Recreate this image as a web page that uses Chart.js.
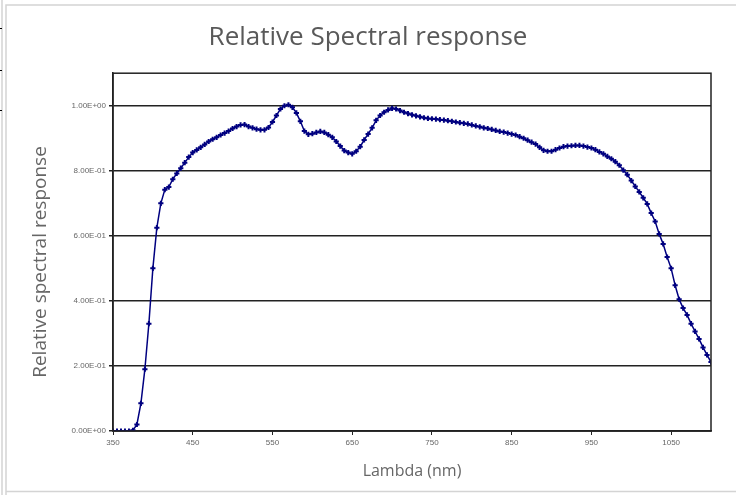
<!DOCTYPE html>
<html>
<head>
<meta charset="utf-8">
<script src="https://cdn.jsdelivr.net/npm/chart.js@4/dist/chart.umd.min.js"></script>
<style>
  html, body { margin: 0; padding: 0; background: #fff; }
  #wrap { position: relative; width: 736px; height: 495px; }
</style>
</head>
<body>
<div id="wrap"><canvas id="myChart" width="736" height="495"></canvas></div>
<script>
(function () {
    'use strict';

    // wavelength (nm) and relative response
    var lambda = [
        350, 355, 360, 365, 370, 375, 380, 385, 390, 395,
        400, 405, 410, 415, 420, 425, 430, 435, 440, 445,
        450, 455, 460, 465, 470, 475, 480, 485, 490, 495,
        500, 505, 510, 515, 520, 525, 530, 535, 540, 545,
        550, 555, 560, 565, 570, 575, 580, 585, 590, 595,
        600, 605, 610, 615, 620, 625, 630, 635, 640, 645,
        650, 655, 660, 665, 670, 675, 680, 685, 690, 695,
        700, 705, 710, 715, 720, 725, 730, 735, 740, 745,
        750, 755, 760, 765, 770, 775, 780, 785, 790, 795,
        800, 805, 810, 815, 820, 825, 830, 835, 840, 845,
        850, 855, 860, 865, 870, 875, 880, 885, 890, 895,
        900, 905, 910, 915, 920, 925, 930, 935, 940, 945,
        950, 955, 960, 965, 970, 975, 980, 985, 990, 995,
        1000, 1005, 1010, 1015, 1020, 1025, 1030, 1035, 1040, 1045,
        1050, 1055, 1060, 1065, 1070, 1075, 1080, 1085, 1090, 1095,
        1100
    ];
    var response = [
        0, 0, 0, 0, 0, 0.002, 0.02, 0.085, 0.19, 0.33,
        0.50, 0.625, 0.70, 0.742, 0.750, 0.774, 0.792, 0.808, 0.825, 0.842,
        0.856, 0.864, 0.872, 0.881, 0.890, 0.897, 0.903, 0.910, 0.916, 0.922,
        0.930, 0.936, 0.941, 0.942, 0.936, 0.932, 0.928, 0.926, 0.926, 0.933,
        0.950, 0.970, 0.990, 1.000, 1.003, 0.995, 0.978, 0.952, 0.922, 0.912,
        0.914, 0.918, 0.921, 0.918, 0.911, 0.903, 0.890, 0.876, 0.862, 0.856,
        0.852, 0.860, 0.874, 0.895, 0.913, 0.932, 0.955, 0.970, 0.980, 0.987,
        0.992, 0.990, 0.985, 0.980, 0.976, 0.972, 0.969, 0.966, 0.963, 0.961,
        0.960, 0.959, 0.957, 0.956, 0.954, 0.952, 0.950, 0.948, 0.946, 0.944,
        0.941, 0.938, 0.935, 0.932, 0.930, 0.927, 0.924, 0.921, 0.919, 0.916,
        0.913, 0.910, 0.905, 0.900, 0.894, 0.888, 0.882, 0.872, 0.863, 0.860,
        0.860, 0.865, 0.870, 0.874, 0.876, 0.877, 0.878, 0.878, 0.876, 0.873,
        0.870, 0.865, 0.858, 0.852, 0.844, 0.837, 0.828, 0.817, 0.802, 0.788,
        0.770, 0.752, 0.735, 0.717, 0.698, 0.670, 0.644, 0.606, 0.575, 0.535,
        0.500, 0.448, 0.405, 0.378, 0.357, 0.330, 0.306, 0.283, 0.257, 0.234,
        0.212
    ];
    var xTicks = [350, 450, 550, 650, 750, 850, 950, 1050];
    var yTicks = [0, 0.2, 0.4, 0.6, 0.8, 1.0];

    var points = lambda.map(function (x, i) { return { x: x, y: response[i] }; });

    function sci(v) {
        if (v === 0) return '0.00E+00';
        var e = Math.floor(Math.log10(Math.abs(v)) + 1e-9);
        var m = v / Math.pow(10, e);
        var s = e < 0 ? '-' : '+';
        var ea = Math.abs(e);
        return m.toFixed(2) + 'E' + s + (ea < 10 ? '0' + ea : ea);
    }

    // light page frame and the box round the plot area
    var framePlugin = {
        id: 'frame',
        beforeDraw: function (chart) {
            var c = chart.ctx;
            c.save();
            c.strokeStyle = '#d4d4d4';
            c.lineWidth = 1.5;
            c.beginPath();
            c.moveTo(2, 0); c.lineTo(2, 495);
            c.moveTo(6, 495); c.lineTo(6, 5); c.lineTo(736, 5);
            c.moveTo(6, 491.5); c.lineTo(736, 491.5);
            c.stroke();
            c.fillStyle = '#000';
            [28, 70, 110].forEach(function (y) { c.fillRect(0, y, 2, 1); });
            c.restore();
        },
        afterDraw: function (chart) {
            var a = chart.chartArea, c = chart.ctx;
            c.save();
            c.strokeStyle = '#222';
            c.lineWidth = 1.5;
            c.strokeRect(a.left, a.top, a.right - a.left, a.bottom - a.top);
            c.restore();
        }
    };

    var ctx = document.getElementById('myChart');
    new Chart(ctx, {
        type: 'line',
        data: {
            datasets: [{
                label: 'Relative spectral response',
                data: points,
                borderColor: '#000080',
                backgroundColor: '#000080',
                borderWidth: 1.5,
                pointStyle: 'cross',
                pointRadius: 2.6,
                pointBorderWidth: 2,
                pointHoverRadius: 2.6,
                tension: 0
            }]
        },
        options: {
            responsive: false,
            animation: false,
            events: [],
            layout: { padding: 0 },
            plugins: {
                legend: { display: false },
                tooltip: { enabled: false },
                title: {
                    display: true,
                    text: 'Relative Spectral response',
                    color: '#595959',
                    font: { family: 'Open Sans', size: 26, weight: 'normal' },
                    padding: { top: 22, bottom: 20 }
                }
            },
            scales: {
                x: {
                    type: 'linear',
                    min: 350,
                    max: 1100,
                    afterBuildTicks: function (scale) {
                        scale.ticks = xTicks.map(function (v) { return { value: v }; });
                    },
                    afterFit: function (scale) { scale.height = 64; },
                    grid: { display: true, drawOnChartArea: false, drawTicks: true, tickLength: 4, color: '#222', lineWidth: 1 },
                    border: { display: true, color: '#222', width: 1.5 },
                    ticks: {
                        color: '#666',
                        font: { family: 'Liberation Sans', size: 8 },
                        padding: 3,
                        maxRotation: 0,
                        autoSkip: false,
                        callback: function (v) { return String(v); }
                    },
                    title: {
                        display: true,
                        text: 'Lambda (nm)',
                        color: '#666',
                        font: { family: 'Open Sans', size: 16 },
                        padding: { top: 0, bottom: 14 }
                    }
                },
                y: {
                    type: 'linear',
                    min: 0,
                    max: 1.1,
                    afterBuildTicks: function (scale) {
                        scale.ticks = yTicks.map(function (v) { return { value: v }; });
                    },
                    afterFit: function (scale) { scale.width = 113; },
                    grid: { color: '#222', lineWidth: 1.5, drawTicks: true, tickLength: 4 },
                    border: { display: true, color: '#222', width: 1.5 },
                    ticks: {
                        color: '#666',
                        font: { family: 'Liberation Sans', size: 8 },
                        padding: 3,
                        callback: function (v) { return sci(v); }
                    },
                    title: {
                        display: true,
                        text: 'Relative spectral response    ',
                        color: '#666',
                        font: { family: 'Open Sans', size: 19 },
                        padding: { top: 29, bottom: 0 }
                    }
                },
                // empty right-hand strip so the plot ends where the original does
                yRight: {
                    type: 'linear',
                    position: 'right',
                    afterFit: function (scale) { scale.width = 25; },
                    grid: { display: false },
                    border: { display: false },
                    ticks: { display: false }
                }
            }
        },
        plugins: [framePlugin]
    });
})();
</script>
</body>
</html>
